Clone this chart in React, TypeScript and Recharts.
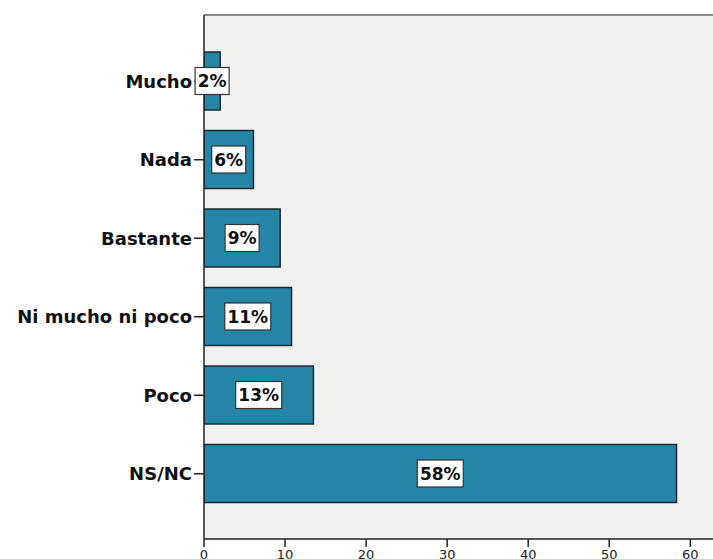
import React from 'react';
import { BarChart, Bar, XAxis, YAxis, CartesianGrid, LabelList } from 'recharts';

const categories = ['Mucho', 'Nada', 'Bastante', 'Ni mucho ni poco', 'Poco', 'NS/NC'];
const values = [2.0, 6.1, 9.4, 10.8, 13.5, 58.3];
const pctLabels = ['2%', '6%', '9%', '11%', '13%', '58%'];
const xTicks = [0, 10, 20, 30, 40, 50, 60];

const data = categories.map((c, i) => ({ name: c, value: values[i], pct: pctLabels[i] }));

const FONT = '"DejaVu Sans", Verdana, sans-serif';

const PctBox = (props: any) => {
    const { x, y, width, height, value } = props;
    const text = String(value);
    const cx = x + width / 2;
    const cy = y + height / 2;
    const w = text.length * 12 + 10;
    const h = 27;
    return (
        <g>
            <rect x={cx - w / 2} y={cy - h / 2} width={w} height={h} fill="#ffffff" stroke="#333" strokeWidth={1.2} />
            <text x={cx} y={cy} dy="0.36em" textAnchor="middle" fontSize={17} fontWeight="bold" fill="#111" fontFamily={FONT}>
                {text}
            </text>
        </g>
    );
};

export default function App() {
    return (
        <div style={{ position: 'absolute', left: 0, top: 0, width: 713, height: 559, overflow: 'hidden', background: '#fff' }}>
            <BarChart
                width={713}
                height={559}
                data={data}
                layout="vertical"
                margin={{ top: 15, right: 0, left: 0, bottom: 0 }}
                style={{ fontFamily: FONT }}
            >
                <CartesianGrid
                    fill="#f1f1f0"
                    vertical={false}
                    horizontal
                    stroke="#8a8a8a"
                    strokeWidth={2}
                    strokeDasharray=""
                    horizontalCoordinatesGenerator={({ offset }: any) => [offset.top]}
                />
                <XAxis
                    type="number"
                    domain={[0, 62.8]}
                    ticks={xTicks}
                    allowDataOverflow
                    height={20}
                    tickSize={8}
                    tickMargin={3}
                    axisLine={{ stroke: '#222', strokeWidth: 1.5 }}
                    tickLine={{ stroke: '#222', strokeWidth: 1.5 }}
                    tick={{ fontSize: 13, fill: '#222', fontFamily: FONT }}
                />
                <YAxis
                    type="category"
                    dataKey="name"
                    width={204}
                    padding={{ top: 27, bottom: 26 }}
                    tickSize={10}
                    tickMargin={2}
                    axisLine={{ stroke: '#222', strokeWidth: 1.5 }}
                    tickLine={{ stroke: '#222', strokeWidth: 1.5 }}
                    tick={{ fontSize: 18, fontWeight: 'bold', fill: '#111', fontFamily: FONT }}
                    interval={0}
                />
                <Bar
                    dataKey="value"
                    fill="#2585a6"
                    stroke="#1d2a30"
                    strokeWidth={1.5}
                    barSize={58}
                    isAnimationActive={false}
                >
                    <LabelList dataKey="pct" content={PctBox} />
                </Bar>
            </BarChart>
        </div>
    );
}
